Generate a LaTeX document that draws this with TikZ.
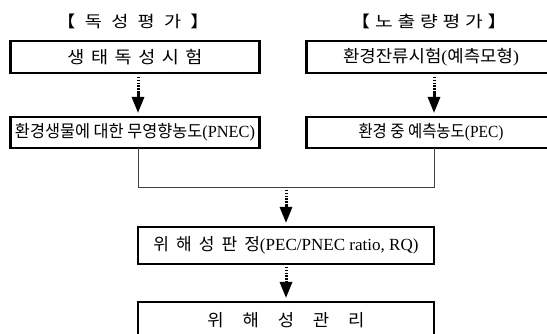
\documentclass[tikz,border=0pt]{standalone}
\usepackage{fontspec}
\setmainfont{Liberation Serif}
\newfontfamily\kr{Noto Sans CJK KR}
\usetikzlibrary{arrows.meta,calc}
\newcommand\fitw[2]{\resizebox{#1pt}{\height}{#2}}
\newcommand\gp[1]{\hspace{#1pt}}
\begin{document}
\begin{tikzpicture}[x=1pt,y=-1pt,
  box/.style={draw, line width=2.4pt, inner sep=0pt, outer sep=0pt, anchor=center, font=\kr\fontsize{17}{20}\selectfont},
  lbl/.style={inner sep=0pt, font=\kr\fontsize{16}{18}\selectfont},
  stemdash/.style={line width=3pt, dash pattern=on 1.4pt off 1.4pt},
  stemhead/.style={line width=3pt, -{Triangle[length=16pt,width=12pt]}},
  link/.style={line width=1pt, draw=black!75}]
\clip (0,0) rectangle (547,334);
% titles
\node[lbl] (t1) at (133,21) {\fitw{152}{【\gp{8}독\gp{8}성\gp{8}평\gp{8}가\gp{8}】}};
\node[lbl] (t2) at (429,21) {\fitw{156}{【\gp{4}노\gp{4}출\gp{4}량\gp{4}평\gp{4}가\gp{4}】}};
% left column
\node[box, minimum width=249pt, minimum height=32pt] (b1) at (135,57) {\fitw{135}{생\gp{6}태\gp{6}독\gp{6}성\gp{6}시\gp{6}험}};
\node[box, minimum width=249pt, minimum height=31pt] (b2) at (135,132.5) {\fitw{240}{환경생물에 대한 무영향농도{\rmfamily (PNEC)}}};
% right column
\node[box, minimum width=249pt, minimum height=32pt] (r1) at (431,57) {\fitw{176}{환경잔류시험{\rmfamily (}예측모형{\rmfamily )}}};
\node[box, minimum width=249pt, minimum height=31pt] (r2) at (431,132.5) {\fitw{145}{환경 중 예측농도{\rmfamily (PEC)}}\hspace{44pt}};
% bottom
\node[box, minimum width=296pt, minimum height=37pt] (b3) at (286,245.5) {\fitw{265}{위\gp{7}해\gp{7}성\gp{7}판\gp{7}정{\rmfamily (PEC/PNEC ratio, RQ)}}};
\node[box, minimum width=296pt, minimum height=36pt] (b4) at (286,320) {\fitw{157}{위\gp{18}해\gp{18}성\gp{18}관\gp{18}리}};
% join
\coordinate (jl) at (138,188);
\coordinate (jr) at (434,188);
\coordinate (jm) at (286,188);
\draw[link] ([xshift=3pt]b2.south) -- (jl) -- (jr) -- ([xshift=3pt]r2.south);
% arrows
\draw[stemdash] ([xshift=3pt,yshift=-4pt]b1.south) -- ([xshift=3pt,yshift=-18pt]b1.south);
\draw[stemhead] ([xshift=3pt,yshift=-18pt]b1.south) -- ([xshift=3pt,yshift=4pt]b2.north);
\draw[stemdash] ([xshift=3pt,yshift=-4pt]r1.south) -- ([xshift=3pt,yshift=-18pt]r1.south);
\draw[stemhead] ([xshift=3pt,yshift=-18pt]r1.south) -- ([xshift=3pt,yshift=4pt]r2.north);
\draw[stemdash] ([yshift=-2pt]jm) -- ([yshift=-16pt]jm);
\draw[stemhead] ([yshift=-16pt]jm) -- ([yshift=4pt]b3.north);
\draw[stemdash] ([yshift=-3pt]b3.south) -- ([yshift=-17pt]b3.south);
\draw[stemhead] ([yshift=-17pt]b3.south) -- ([yshift=4pt]b4.north);
\end{tikzpicture}
\end{document}
